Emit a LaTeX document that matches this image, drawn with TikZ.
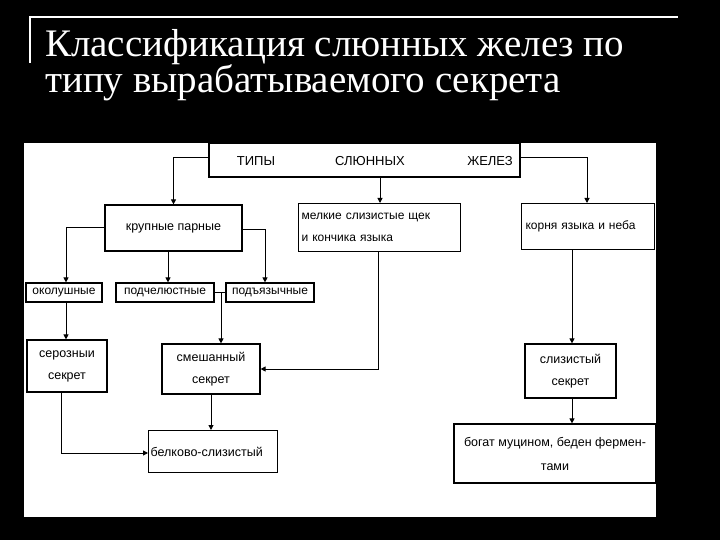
\documentclass[tikz,border=0pt]{standalone}
\usepackage{fontspec}
\setmainfont{Liberation Sans}
\newfontfamily\titlefont{Liberation Serif}
\usetikzlibrary{arrows.meta}
\begin{document}
\begin{tikzpicture}[x=1pt,y=-1pt,
  bx/.style={draw,line width=1.2pt,inner sep=0pt,font=\fontsize{12.5}{17}\selectfont},
  ar/.style={line width=1pt,-{Triangle[length=5pt,width=5pt]}},
  ln/.style={line width=1pt}]
\fill[black] (0,0) rectangle (720,540);
\useasboundingbox (0,0) rectangle (720,540);
\fill[white] (24,143) rectangle (656,517);
\draw[white,line width=1.5pt] (30,63) -- (30,17) -- (678,17);
\node[anchor=base west,text=white,inner sep=0pt,font=\titlefont\fontsize{39}{42}\selectfont] (t1) at (45,57) {Классификация слюнных желез по};
\node[anchor=base west,text=white,inner sep=0pt,font=\titlefont\fontsize{39}{42}\selectfont] (t2) at (45,93) {типу вырабатываемого секрета};
% boxes
\node[bx,minimum width=311pt,minimum height=34pt] (top) at (364.5,160) {};
\node[font=\fontsize{13}{15}\selectfont] (tA) at (256,161) {ТИПЫ};
\node[font=\fontsize{13}{15}\selectfont] (tB) at (370,161) {СЛЮННЫХ};
\node[font=\fontsize{13}{15}\selectfont] (tC) at (490,161) {ЖЕЛЕЗ};
\node[bx,minimum width=137pt,minimum height=46pt] (kr) at (173.5,228) {крупные парные};
\node[bx,minimum width=162pt,minimum height=48pt,align=left,anchor=north west,text width=156pt,inner xsep=3pt,inner ysep=4pt,font=\fontsize{12}{22}\selectfont] (me) at (298,203) {мелкие слизистые щек\\и кончика языка};
\node[bx,minimum width=133pt,minimum height=46pt,anchor=north west,inner xsep=4pt,inner ysep=5pt,text width=125pt,font=\fontsize{12}{15}\selectfont] (ko) at (521,203) {корня языка и неба};
\node[bx,minimum width=76pt,minimum height=19pt,font=\fontsize{12}{15}\selectfont] (ok) at (64,292.5) {околушные};
\node[bx,minimum width=98pt,minimum height=19pt,font=\fontsize{12}{15}\selectfont] (pc) at (165,292.5) {подчелюстные};
\node[bx,minimum width=88pt,minimum height=19pt,font=\fontsize{12}{15}\selectfont] (py) at (270,292.5) {подъязычные};
\node[bx,minimum width=80pt,minimum height=52pt,align=center,font=\fontsize{12.5}{22}\selectfont] (se) at (67,366) {серозныи\\секрет};
\node[bx,minimum width=98pt,minimum height=50pt,align=center,font=\fontsize{12.5}{22}\selectfont] (sm) at (211,369) {смешанный\\секрет};
\node[bx,minimum width=91pt,minimum height=54pt,align=center,font=\fontsize{12.5}{22}\selectfont] (sl) at (570.5,371) {слизистый\\секрет};
\node[bx,minimum width=129pt,minimum height=42pt,anchor=north west,inner xsep=2pt,inner ysep=5pt,text width=125pt] (be) at (148,430) {белково-слизистый};
\node[bx,minimum width=202pt,minimum height=59pt,align=center,font=\fontsize{12.5}{24}\selectfont] (bo) at (555,453.5) {богат муцином, беден фермен-\\тами};
% connectors
\draw[ar] (top.west |- 0,158) -| (kr.north);
\draw[ar] (top.south -| 380,0) -- (me.north -| 380,0);
\draw[ar] (top.east |- 0,158) -| (ko.north -| 587,0);
\draw[ar] (kr.west |- 0,228) -| (ok.north -| 66,0);
\draw[ar] (kr.south -| 168,0) -- (pc.north -| 168,0);
\draw[ar] (kr.east |- 0,230) -| (py.north -| 265,0);
\draw[ln] (pc.east) -- (py.west);
\draw[ar] (221,292.5) -- (sm.north -| 221,0);
\draw[ar] (ok.south -| 66,0) -- (se.north -| 66,0);
\draw[ar] (me.south -| 378,0) |- (sm.east |- 0,369);
\draw[ar] (se.south -| 61,0) |- (be.west |- 0,453);
\draw[ar] (sm.south -| 211,0) -- (be.north -| 211,0);
\draw[ar] (ko.south -| 572,0) -- (sl.north -| 572,0);
\draw[ar] (sl.south -| 572,0) -- (bo.north -| 572,0);
\end{tikzpicture}
\end{document}
